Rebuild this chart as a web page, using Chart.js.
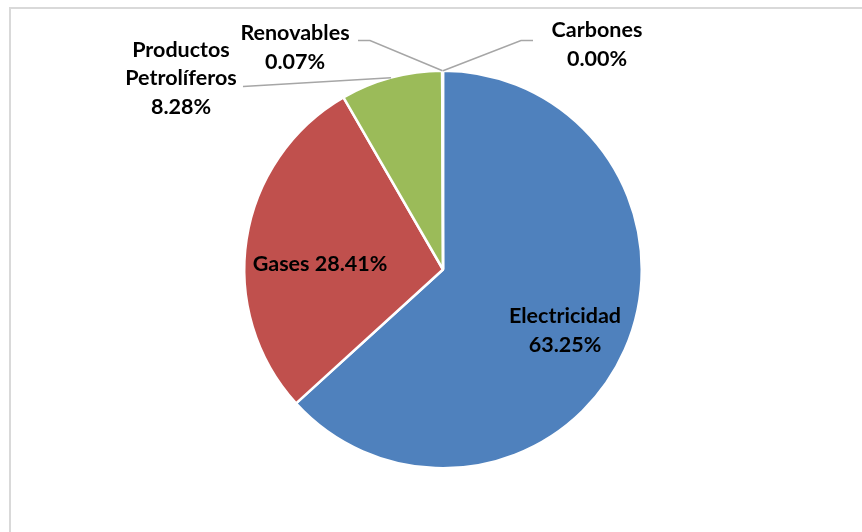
<!DOCTYPE html>
<html lang="es">
<head>
    <meta charset="UTF-8">
    <title>Consumo de energía por fuente</title>
    <script src="https://cdn.jsdelivr.net/npm/chart.js"></script>
    <style>
        html, body {
            margin: 0;
            padding: 0;
            background: #fff;
            overflow: hidden;
        }

        .frame {
            position: absolute;
            left: 9px;
            top: 7px;
            width: 1000px;
            height: 700px;
            border: 2px solid #d9d9d9;
            box-sizing: border-box;
        }

        .chart-box {
            position: absolute;
            left: 0;
            top: 0;
            width: 862px;
            height: 532px;
        }
    </style>
</head>
<body>
    <div class="frame"></div>
    <div class="chart-box">
        <canvas id="energyPie"></canvas>
    </div>

    <script>
        // Share of consumption by energy source (%)
        const categories = ['Electricidad', 'Gases', 'Productos Petrolíferos', 'Renovables', 'Carbones'];
        const shares = [63.25, 28.41, 8.28, 0.07, 0.00];
        const sliceColors = ['#4f81bd', '#c0504d', '#9bbb59', '#8064a2', '#4bacc6'];

        // How each label is laid out: text lines, centre offset from the pie centre,
        // and (for outside labels) where the leader line starts and bends
        const pct = v => v.toFixed(2) + '%';
        const labelLayout = [
            { lines: ['Electricidad', pct(shares[0])], dx: 122, dy: 61 },
            { lines: ['Gases ' + pct(shares[1])], dx: -123, dy: -5 },
            { lines: ['Productos', 'Petrolíferos', pct(shares[2])], dx: -262, dy: -191, lead: [[-200, -183]] },
            { lines: ['Renovables', pct(shares[3])], dx: -148, dy: -222, lead: [[-85, -229], [-73, -229]] },
            { lines: ['Carbones', pct(shares[4])], dx: 154, dy: -225, lead: [[90, -229], [78, -229]] }
        ];

        const pieLabels = {
            id: 'pieLabels',
            afterDatasetsDraw(chart) {
                const ctx = chart.ctx;
                const arcs = chart.getDatasetMeta(0).data;
                ctx.save();
                arcs.forEach((arc, i) => {
                    const cfg = labelLayout[i];
                    const cx = arc.x, cy = arc.y;
                    if (cfg.lead) {
                        const mid = (arc.startAngle + arc.endAngle) / 2;
                        const ex = cx + Math.cos(mid) * arc.outerRadius;
                        const ey = cy + Math.sin(mid) * arc.outerRadius;
                        ctx.strokeStyle = '#a6a6a6';
                        ctx.lineWidth = 1.5;
                        ctx.beginPath();
                        cfg.lead.forEach((p, k) => {
                            if (k === 0) ctx.moveTo(cx + p[0], cy + p[1]);
                            else ctx.lineTo(cx + p[0], cy + p[1]);
                        });
                        ctx.lineTo(ex, ey);
                        ctx.stroke();
                    }
                    ctx.fillStyle = '#000';
                    ctx.font = 'bold 21.5px Lato';
                    ctx.textAlign = 'center';
                    ctx.textBaseline = 'middle';
                    const lh = 28.5;
                    const top = cy + cfg.dy - (cfg.lines.length - 1) * lh / 2;
                    cfg.lines.forEach((t, k) => ctx.fillText(t, cx + cfg.dx, top + k * lh));
                });
                ctx.restore();
            }
        };

        new Chart(document.getElementById('energyPie'), {
            type: 'pie',
            data: {
                labels: categories,
                datasets: [{
                    data: shares,
                    backgroundColor: sliceColors,
                    borderColor: '#ffffff',
                    borderWidth: 2.5
                }]
            },
            options: {
                responsive: true,
                maintainAspectRatio: false,
                animation: false,
                layout: {
                    padding: { left: 243, right: 219, top: 69, bottom: 62 }
                },
                plugins: {
                    legend: { display: false },
                    tooltip: { enabled: false }
                }
            },
            plugins: [pieLabels]
        });
    </script>
</body>
</html>
